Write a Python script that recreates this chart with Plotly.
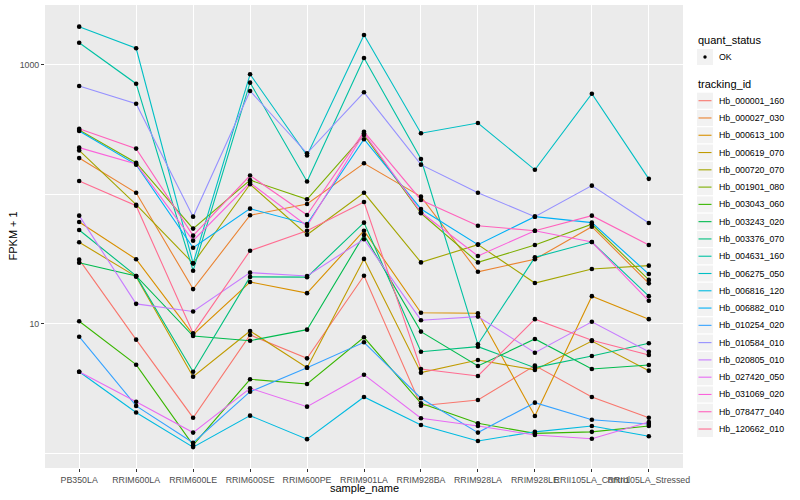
import plotly.graph_objects as go

samples = ["PB350LA", "RRIM600LA", "RRIM600LE", "RRIM600SE", "RRIM600PE", "RRIM901LA",
           "RRIM928BA", "RRIM928LA", "RRIM928LE", "RRII105LA_Control", "RRII105LA_Stressed"]

# FPKM + 1 values per gene, in sample order
hb_000001_160 = [31.4, 7.57, 1.89, 8.22, 5.43, 23.6, 2.34, 2.59, 4.77, 2.73, 1.89]
hb_000027_030 = [191, 103, 18.6, 69.1, 84.5, 174, 96.2, 25.3, 31.6, 56.4, 20.6]
hb_000613_100 = [61.3, 31.6, 8.27, 21.1, 17.3, 52.5, 12.2, 12.1, 1.95, 16.4, 10.9]
hb_000619_070 = [42.8, 23.2, 3.92, 8.83, 4.60, 31.8, 4.21, 5.27, 4.42, 7.39, 4.36]
hb_000720_070 = [219, 83.4, 29.4, 120, 48.9, 103, 29.9, 41.0, 20.7, 26.6, 28.2]
hb_001901_080 = [315, 176, 54.5, 129, 91.8, 288, 71.6, 29.9, 40.7, 58.9, 21.9]
hb_003043_060 = [10.5, 4.85, 1.16, 3.74, 3.44, 7.89, 2.44, 1.71, 1.43, 1.47, 1.63]
hb_003243_020 = [29.7, 23.5, 8.07, 7.43, 9.04, 48.7, 8.73, 4.74, 7.66, 4.49, 4.82]
hb_003376_070 = [53.2, 23.5, 4.28, 23.1, 23.0, 60.6, 6.11, 6.68, 4.60, 5.66, 7.10]
hb_004631_160 = [1486, 717, 25.8, 730, 126, 1132, 188, 6.97, 32.7, 42.9, 16.4]
hb_006275_050 = [1976, 1346, 29.4, 847, 200, 1705, 297, 356, 155, 600, 132]
hb_006816_120 = [4.28, 2.07, 1.12, 1.96, 1.29, 2.73, 1.66, 1.25, 1.47, 1.63, 1.36]
hb_006882_010 = [309, 170, 38.8, 77.7, 59.2, 267, 77.3, 41.0, 67.4, 60.6, 24.3]
hb_010254_020 = [7.98, 2.33, 1.21, 3.00, 4.60, 7.22, 2.67, 1.45, 2.47, 1.82, 1.69]
hb_010584_010 = [688, 502, 67.4, 630, 208, 615, 170, 103, 67.4, 117, 60.3]
hb_020805_010 = [68.6, 14.3, 12.5, 24.9, 23.5, 45.1, 10.7, 11.4, 6.00, 10.4, 6.11]
hb_027420_050 = [4.28, 2.51, 1.45, 3.19, 2.30, 4.06, 1.87, 1.63, 1.39, 1.30, 1.75]
hb_031069_020 = [230, 172, 44.0, 123, 57.1, 297, 72.9, 33.5, 52.5, 42.9, 15.1]
hb_078477_040 = [322, 226, 48.1, 140, 69.5, 305, 90.7, 57.4, 52.5, 68.6, 40.7]
hb_120662_010 = [127, 81.9, 8.47, 36.8, 52.5, 87.5, 4.49, 3.97, 10.9, 7.48, 5.77]

tracking_ids = ["Hb_000001_160", "Hb_000027_030", "Hb_000613_100", "Hb_000619_070",
                "Hb_000720_070", "Hb_001901_080", "Hb_003043_060", "Hb_003243_020",
                "Hb_003376_070", "Hb_004631_160", "Hb_006275_050", "Hb_006816_120",
                "Hb_006882_010", "Hb_010254_020", "Hb_010584_010", "Hb_020805_010",
                "Hb_027420_050", "Hb_031069_020", "Hb_078477_040", "Hb_120662_010"]

series = [hb_000001_160, hb_000027_030, hb_000613_100, hb_000619_070, hb_000720_070,
          hb_001901_080, hb_003043_060, hb_003243_020, hb_003376_070, hb_004631_160,
          hb_006275_050, hb_006816_120, hb_006882_010, hb_010254_020, hb_010584_010,
          hb_020805_010, hb_027420_050, hb_031069_020, hb_078477_040, hb_120662_010]

colors = ["#F8766D", "#EA8331", "#D89000", "#C09B00", "#A3A500", "#7CAE00", "#39B600",
          "#00BB4E", "#00BF7D", "#00C1A3", "#00BFC4", "#00BAE0", "#00B0F6", "#35A2FF",
          "#9590FF", "#C77CFF", "#E76BF3", "#FA62DB", "#FF62BC", "#FF6C91"]

quant_status = "OK"

W, H = 800, 500
ML, MR, MT, MB = 45, 117, 5, 32
PW, PH = W - ML - MR, H - MT - MB


def px(x):
    return (x - ML) / PW


def py(y):
    return (H - MB - y) / PH


FONT = "Liberation Sans, Arial, Helvetica, sans-serif"

fig = go.Figure()
for name, vals, col in zip(tracking_ids, series, colors):
    fig.add_trace(go.Scatter(x=samples, y=vals, mode="lines", name=name,
                             line=dict(color=col, width=1.1), showlegend=False,
                             hoverinfo="skip"))
for name, vals in zip(tracking_ids, series):
    fig.add_trace(go.Scatter(x=samples, y=vals, mode="markers", name=name,
                             marker=dict(color="black", size=4.6), showlegend=False))

shapes = []
annotations = []

# legend: quant_status
annotations.append(dict(x=px(696), y=py(40), xref="paper", yref="paper", text="quant_status",
                        showarrow=False, xanchor="left", yanchor="middle",
                        font=dict(family=FONT, size=11, color="black")))
shapes.append(dict(type="rect", xref="paper", yref="paper", x0=px(697), x1=px(713),
                   y0=py(49), y1=py(65), fillcolor="#F2F2F2", line=dict(width=0), layer="below"))
shapes.append(dict(type="circle", xref="paper", yref="paper", x0=px(703.3), x1=px(706.7),
                   y0=py(55.3), y1=py(58.7), fillcolor="black", line=dict(width=0)))
annotations.append(dict(x=px(716.5), y=py(57), xref="paper", yref="paper", text=quant_status,
                        showarrow=False, xanchor="left", yanchor="middle",
                        font=dict(family=FONT, size=8.8, color="black")))

# legend: tracking_id
annotations.append(dict(x=px(696), y=py(84), xref="paper", yref="paper", text="tracking_id",
                        showarrow=False, xanchor="left", yanchor="middle",
                        font=dict(family=FONT, size=11, color="black")))
for i, (name, col) in enumerate(zip(tracking_ids, colors)):
    yc = 100.7 + 17.28 * i
    shapes.append(dict(type="rect", xref="paper", yref="paper", x0=px(697), x1=px(713),
                       y0=py(yc - 8), y1=py(yc + 8), fillcolor="#F2F2F2",
                       line=dict(width=0), layer="below"))
    shapes.append(dict(type="line", xref="paper", yref="paper", x0=px(698.5), x1=px(711.5),
                       y0=py(yc), y1=py(yc), line=dict(color=col, width=1.1)))
    annotations.append(dict(x=px(716.5), y=py(yc), xref="paper", yref="paper", text=name,
                            showarrow=False, xanchor="left", yanchor="middle",
                            font=dict(family=FONT, size=8.8, color="black")))

# axis titles
annotations.append(dict(x=0.5, y=py(488), xref="paper", yref="paper", text="sample_name",
                        showarrow=False, xanchor="center", yanchor="middle",
                        font=dict(family=FONT, size=11, color="black")))
annotations.append(dict(x=px(12), y=0.5, xref="paper", yref="paper", text="FPKM + 1",
                        showarrow=False, xanchor="center", yanchor="middle", textangle=-90,
                        font=dict(family=FONT, size=11, color="black")))

fig.update_layout(
    width=W, height=H,
    margin=dict(l=ML, r=MR, t=MT, b=MB, autoexpand=False),
    paper_bgcolor="white", plot_bgcolor="#EBEBEB",
    font=dict(family=FONT, size=8.8, color="#4D4D4D"),
    shapes=shapes, annotations=annotations,
    showlegend=False,
    xaxis=dict(type="category", categoryorder="array", categoryarray=samples,
               range=[-0.6, 10.6], showgrid=True, gridcolor="white", gridwidth=1.1,
               ticks="outside", ticklen=3, tickcolor="#333333", tickwidth=1,
               tickangle=0, tickfont=dict(family=FONT, size=8.8, color="#4D4D4D"),
               zeroline=False, showline=False, automargin=False, fixedrange=True),
    yaxis=dict(type="log", range=[-0.112, 3.463], tickvals=[10, 1000],
               ticktext=["10", "1000"], showgrid=True, gridcolor="white", gridwidth=1.1,
               minor=dict(tickvals=[1, 100], showgrid=True, gridcolor="white", gridwidth=0.5),
               ticks="outside", ticklen=3, tickcolor="#333333", tickwidth=1,
               tickfont=dict(family=FONT, size=8.8, color="#4D4D4D"),
               zeroline=False, showline=False, automargin=False, fixedrange=True),
)

fig.write_html("out.html", config={"displayModeBar": False},
               post_script="document.body.style.margin='0';document.body.style.padding='0';")
